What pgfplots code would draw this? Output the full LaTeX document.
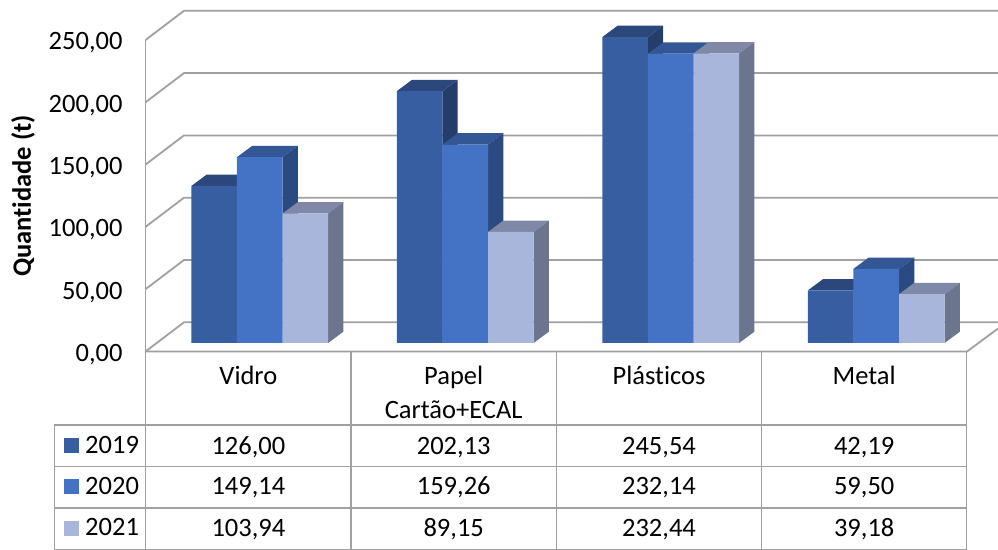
\documentclass[border=0pt]{standalone}
\usepackage{pgfplots}
\usepackage{fontspec}
\setmainfont{Carlito}[Ligatures={NoCommon}]
\pgfplotsset{compat=1.18}
\definecolor{gridc}{HTML}{A0A0A0}
\definecolor{fA}{HTML}{385EA2}
\definecolor{fB}{HTML}{4472C4}
\definecolor{fC}{HTML}{A8B6DB}
\definecolor{tA}{HTML}{2B477C}
\definecolor{sA}{HTML}{253D6B}
\definecolor{tB}{HTML}{335695}
\definecolor{sB}{HTML}{2C4A82}
\definecolor{tC}{HTML}{8088A8}
\definecolor{sC}{HTML}{6B758D}
\newcommand{\tfont}{\fontsize{26.6}{32}\selectfont}
\newcommand{\barbox}[5]{%
  \pgfmathsetmacro\xl{#1+(#2-0.5)*0.2219}%
  \pgfmathsetmacro\xr{#1+(#2+0.5)*0.2219}%
  \pgfmathsetmacro\xL{\xl+0.07397}%
  \pgfmathsetmacro\xR{\xr+0.07397}%
  \pgfmathsetmacro\yT{#3+9.07}%
  \addplot[fill=#4,draw=none,forget plot] coordinates {(\xl,#3)(\xr,#3)(\xR,\yT)(\xL,\yT)} --cycle;
  \addplot[fill=#5,draw=none,forget plot] coordinates {(\xr,0)(\xr,#3)(\xR,\yT)(\xR,9.07)} --cycle;
}
\newcommand{\gridl}[2]{%
  \addplot[gridc,line width=1.8bp,forget plot] coordinates {(0.44404,#1)(0.63139,#2)(4.59246,#2)};
}
\begin{document}
\begin{tikzpicture}[x=1bp,y=1bp]
\path[use as bounding box] (0,0) rectangle (998,550);
\begin{axis}[
  at={(145.5bp,198.5bp)},anchor=south west,
  scale only axis,width=852.5bp,height=351.5bp,
  xmin=0.44404,xmax=4.59246,ymin=-6.82,ymax=275.28,
  clip=false,
  axis line style={draw=none},
  xtick=\empty,
  ytick={0,50,100,150,200,250},
  major tick length=0pt,
  tick label style={font=\tfont},
  yticklabel style={yshift=-11.5bp,xshift=-19.5bp,anchor=east,
    /pgf/number format/.cd,fixed,fixed zerofill,precision=2,use comma,assume math mode=true},
  every axis y label/.style={at={(axis description cs:-0.1437,0.4424)},rotate=90,anchor=center},
  ylabel={\fontsize{26.6}{32}\selectfont\bfseries Quantidade (t)},
]
% walls and gridlines
\gridl{43.18}{66.6}
\gridl{93.18}{116.6}
\gridl{143.18}{166.6}
\gridl{193.18}{216.6}
\gridl{243.18}{266.6}
\gridl{-6.82}{16.6}
\addplot[gridc,line width=1.8bp,forget plot] coordinates {(0.44404,-6.82)(0.44404,243.18)};
\addplot[gridc,line width=1.8bp,forget plot] coordinates {(0.44404,-6.82)(4.44161,-6.82)(4.59246,11.6)};
% 2019
\barbox{1}{-1}{126.00}{tA}{sA}
\barbox{2}{-1}{202.13}{tA}{sA}
\barbox{3}{-1}{245.54}{tA}{sA}
\barbox{4}{-1}{42.19}{tA}{sA}
\addplot[ybar,bar width=45.6bp,bar shift=-45.6bp,fill=fA,draw=none] coordinates {(1,126.00)(2,202.13)(3,245.54)(4,42.19)};
% 2020
\barbox{1}{0}{149.14}{tB}{sB}
\barbox{2}{0}{159.26}{tB}{sB}
\barbox{3}{0}{232.14}{tB}{sB}
\barbox{4}{0}{59.50}{tB}{sB}
\addplot[ybar,bar width=45.6bp,bar shift=0bp,fill=fB,draw=none] coordinates {(1,149.14)(2,159.26)(3,232.14)(4,59.50)};
% 2021
\barbox{1}{1}{103.94}{tC}{sC}
\barbox{2}{1}{89.15}{tC}{sC}
\barbox{3}{1}{232.44}{tC}{sC}
\barbox{4}{1}{39.18}{tC}{sC}
\addplot[ybar,bar width=45.6bp,bar shift=45.6bp,fill=fC,draw=none] coordinates {(1,103.94)(2,89.15)(3,232.44)(4,39.18)};
\end{axis}
\begin{scope}[yshift=550bp,x=1bp,y=-1bp]
  \draw[gridc,line width=1.5bp]
    (54.3,425)--(966.7,425) (54.3,466.7)--(966.7,466.7) (54.3,508)--(966.7,508) (54.3,549.3)--(966.7,549.3)
    (54.3,425)--(54.3,549.3) (145.7,351.5)--(145.7,549.3) (351,351.5)--(351,549.3)
    (556.3,351.5)--(556.3,549.3) (761.7,351.5)--(761.7,549.3) (966.7,351.5)--(966.7,549.3);
  \fill[fA] (64,438) rectangle (79,453);
  \fill[fB] (64,479) rectangle (79,494);
  \fill[fC] (64,521) rectangle (79,536);
  \tfont
  \node[anchor=base west,inner sep=0] at (85,454) {2019};
  \node[anchor=base west,inner sep=0] at (85,494.5) {2020};
  \node[anchor=base west,inner sep=0] at (85,536) {2021};
  \node[anchor=base,inner sep=0] at (248.4,385) {Vidro};
  \node[anchor=base,inner sep=0] at (453.7,385) {Papel};
  \node[anchor=base,inner sep=0] at (453.7,418.3) {Cartão+ECAL};
  \node[anchor=base,inner sep=0] at (659,385) {Plásticos};
  \node[anchor=base,inner sep=0] at (864.2,385) {Metal};
  \node[anchor=base,inner sep=0] at (248.4,455) {126,00};
  \node[anchor=base,inner sep=0] at (453.7,455) {202,13};
  \node[anchor=base,inner sep=0] at (659,455) {245,54};
  \node[anchor=base,inner sep=0] at (864.2,455) {42,19};
  \node[anchor=base,inner sep=0] at (248.4,495) {149,14};
  \node[anchor=base,inner sep=0] at (453.7,495) {159,26};
  \node[anchor=base,inner sep=0] at (659,495) {232,14};
  \node[anchor=base,inner sep=0] at (864.2,495) {59,50};
  \node[anchor=base,inner sep=0] at (248.4,537) {103,94};
  \node[anchor=base,inner sep=0] at (453.7,537) {89,15};
  \node[anchor=base,inner sep=0] at (659,537) {232,44};
  \node[anchor=base,inner sep=0] at (864.2,537) {39,18};
\end{scope}
\end{tikzpicture}
\end{document}
